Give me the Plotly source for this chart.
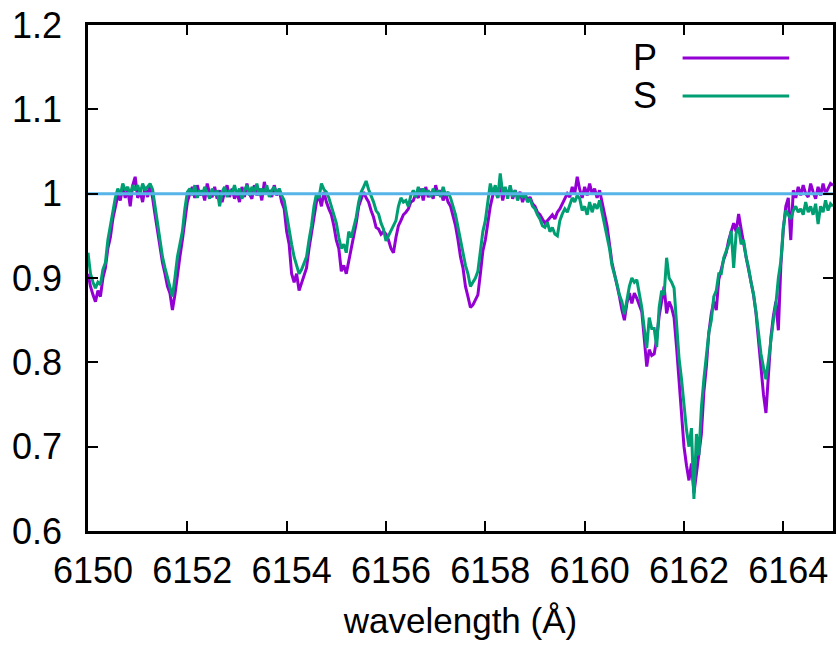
import numpy as np
import plotly.graph_objects as go

wl_start = 6150.0
wl_step = 0.05

P_flux = [
    # 6150.00 - 6150.95
    0.905, 0.890, 0.880, 0.872, 0.885, 0.878, 0.900, 0.912, 0.935, 0.948,
    0.970, 0.985, 0.998, 0.992, 1.008, 0.995, 1.005, 0.985, 1.010, 1.020,
    # 6151
    0.995, 1.003, 0.990, 1.008, 0.996, 1.010, 0.995, 0.975, 0.955, 0.935,
    0.918, 0.905, 0.890, 0.882, 0.862, 0.880, 0.905, 0.925, 0.945, 0.965,
    # 6152
    0.990, 1.000, 1.008, 0.995, 1.010, 0.998, 1.004, 0.992, 1.012, 1.000,
    0.996, 1.008, 0.994, 1.004, 0.990, 1.002, 1.010, 0.996, 1.006, 0.994,
    # 6153
    1.002, 0.990, 1.008, 0.996, 1.012, 1.000, 0.994, 1.010, 0.998, 1.006,
    0.992, 1.014, 1.000, 1.004, 0.996, 1.010, 0.998, 1.004, 0.990, 0.982,
    # 6154
    0.955, 0.940, 0.905, 0.895, 0.905, 0.885, 0.895, 0.905, 0.912, 0.935,
    0.955, 0.975, 0.990, 0.998, 0.985, 1.002, 0.990, 0.982, 0.975, 0.962,
    # 6155
    0.945, 0.935, 0.908, 0.915, 0.905, 0.920, 0.935, 0.950, 0.965, 0.985,
    0.995, 1.002, 0.995, 0.990, 0.980, 0.972, 0.960, 0.958, 0.952, 0.955,
    # 6156
    0.952, 0.945, 0.935, 0.930, 0.948, 0.962, 0.968, 0.975, 0.978, 0.982,
    0.990, 0.992, 1.000, 0.995, 1.006, 0.992, 1.008, 0.996, 1.002, 0.994,
    # 6157
    1.010, 0.998, 1.004, 0.992, 1.000, 0.990, 0.985, 0.975, 0.962, 0.945,
    0.925, 0.912, 0.890, 0.878, 0.865, 0.868, 0.875, 0.880, 0.905, 0.932,
    # 6158
    0.945, 0.968, 0.985, 0.998, 1.004, 0.995, 1.010, 0.992, 1.006, 0.998,
    1.008, 0.994, 1.004, 0.996, 1.002, 0.990, 1.000, 0.992, 0.996, 0.988,
    # 6159
    0.985, 0.978, 0.975, 0.970, 0.965, 0.968, 0.972, 0.975, 0.970, 0.978,
    0.982, 0.988, 0.995, 1.000, 0.996, 1.008, 1.000, 1.020, 1.005, 0.995,
    # 6160
    1.008, 0.998, 1.012, 1.000, 1.006, 0.995, 1.004, 0.990, 0.975, 0.962,
    0.940, 0.918, 0.905, 0.893, 0.878, 0.862, 0.850, 0.870, 0.882, 0.870,
    # 6161
    0.882, 0.876, 0.868, 0.860, 0.828, 0.795, 0.815, 0.808, 0.810, 0.828,
    0.855, 0.875, 0.890, 0.858, 0.872, 0.865, 0.853, 0.818, 0.780, 0.742,
    # 6162
    0.700, 0.678, 0.660, 0.680, 0.645, 0.668, 0.690, 0.715, 0.765, 0.795,
    0.835, 0.858, 0.872, 0.862, 0.898, 0.910, 0.922, 0.930, 0.945, 0.955,
    # 6163
    0.965, 0.955, 0.976, 0.958, 0.940, 0.925, 0.910, 0.895, 0.880, 0.858,
    0.825, 0.790, 0.762, 0.740, 0.790, 0.830, 0.855, 0.872, 0.838, 0.915,
    # 6164
    0.958, 0.985, 0.995, 0.945, 1.004, 0.995, 1.008, 0.998, 1.010, 1.000,
    0.996, 1.012, 1.002, 0.994, 1.008, 0.998, 1.012, 1.000, 1.006, 1.012,
    # 6165.00
    1.010,
]

S_flux = [
    # 6150
    0.930, 0.905, 0.895, 0.888, 0.895, 0.892, 0.910, 0.918, 0.945, 0.962,
    0.980, 0.995, 1.006, 0.998, 1.012, 1.004, 1.008, 0.998, 1.010, 1.004,
    # 6151
    1.010, 1.000, 1.012, 1.004, 1.008, 1.012, 1.005, 0.985, 0.960, 0.945,
    0.925, 0.912, 0.900, 0.890, 0.878, 0.900, 0.925, 0.940, 0.955, 0.982,
    # 6152
    1.002, 1.006, 0.998, 1.010, 0.995, 1.004, 0.998, 1.008, 1.000, 0.994,
    1.006, 0.998, 1.004, 0.985, 1.002, 1.008, 0.996, 1.004, 1.000, 1.010,
    # 6153
    0.998, 1.006, 0.994, 1.004, 1.010, 0.998, 1.008, 1.002, 1.012, 0.998,
    1.006, 1.000, 1.010, 0.996, 1.004, 1.008, 1.000, 1.006, 0.998, 0.992,
    # 6154
    0.975, 0.955, 0.940, 0.925, 0.915, 0.905, 0.910, 0.918, 0.925, 0.945,
    0.962, 0.985, 1.000, 0.995, 1.012, 1.005, 1.002, 0.995, 0.984, 0.975,
    # 6155
    0.965, 0.948, 0.935, 0.940, 0.930, 0.955, 0.948, 0.960, 0.972, 0.990,
    1.002, 1.008, 1.015, 1.005, 0.998, 0.990, 0.980, 0.976, 0.965, 0.958,
    # 6156
    0.944, 0.950, 0.958, 0.962, 0.968, 0.985, 0.995, 0.990, 0.992, 0.985,
    0.998, 1.004, 0.996, 1.008, 0.998, 1.006, 1.000, 1.004, 0.996, 1.006,
    # 6157
    0.998, 1.004, 0.996, 1.008, 0.998, 1.002, 0.995, 0.985, 0.975, 0.960,
    0.944, 0.930, 0.915, 0.905, 0.890, 0.895, 0.900, 0.908, 0.935, 0.955,
    # 6158
    0.968, 0.990, 1.012, 1.000, 1.010, 0.995, 1.024, 1.000, 1.008, 0.994,
    1.010, 0.996, 1.004, 0.992, 1.000, 0.996, 0.998, 0.990, 0.994, 0.985,
    # 6159
    0.982, 0.975, 0.970, 0.962, 0.960, 0.966, 0.955, 0.960, 0.952, 0.950,
    0.968, 0.976, 0.982, 0.978, 0.988, 0.995, 0.990, 0.998, 0.994, 0.980,
    # 6160
    0.985, 0.975, 0.990, 0.978, 0.988, 0.982, 0.992, 0.978, 0.965, 0.950,
    0.935, 0.915, 0.905, 0.893, 0.880, 0.872, 0.857, 0.875, 0.890, 0.900,
    # 6161
    0.895, 0.898, 0.880, 0.865, 0.840, 0.817, 0.853, 0.840, 0.840, 0.818,
    0.865, 0.885, 0.880, 0.924, 0.900, 0.895, 0.888, 0.840, 0.805, 0.780,
    # 6162
    0.745, 0.720, 0.700, 0.722, 0.638, 0.715, 0.690, 0.746, 0.780, 0.810,
    0.835, 0.850, 0.878, 0.885, 0.905, 0.905, 0.924, 0.932, 0.940, 0.956,
    # 6163
    0.912, 0.953, 0.960, 0.940, 0.945, 0.925, 0.912, 0.895, 0.881, 0.860,
    0.832, 0.810, 0.794, 0.780, 0.802, 0.829, 0.850, 0.869, 0.900, 0.920,
    # 6164
    0.960, 0.980, 0.975, 0.970, 0.980, 0.985, 0.978, 0.982, 0.975, 0.990,
    0.978, 0.985, 0.975, 0.988, 0.964, 0.985, 0.978, 0.992, 0.980, 0.988,
    # 6165.00
    0.985,
]

continuum_x = [6150.0, 6165.0]
continuum_y = [1.0, 1.0]

series_names = ["P", "S"]
series_colors = ["#9400D3", "#009E73"]
x_ticks = [6150, 6152, 6154, 6156, 6158, 6160, 6162, 6164]
y_ticks = [0.6, 0.7, 0.8, 0.9, 1.0, 1.1, 1.2]

wl = wl_start + wl_step * np.arange(len(P_flux))

W, H = 838, 645
ML, MR, MT, MB = 88, 2, 25, 114
FONT = "Liberation Sans, Arial, Helvetica, sans-serif"
FS = 36

fig = go.Figure()
for name, flux, col in zip(series_names, [P_flux, S_flux], series_colors):
    fig.add_trace(go.Scatter(x=wl, y=flux, mode="lines", name=name,
                             line=dict(color=col, width=3), showlegend=False))
fig.add_trace(go.Scatter(x=continuum_x, y=continuum_y, mode="lines",
                         line=dict(color="#56B4E9", width=3), showlegend=False))

pw = W - ML - MR
ph = H - MT - MB
def px_x(p):
    return (p - ML) / pw
def px_y(p):
    return (H - MB - p) / ph

# gnuplot-style legend: text to the left of the sample line
for i, (name, col) in enumerate(zip(series_names, series_colors)):
    yy = px_y(58 + 38 * i)
    fig.add_annotation(x=px_x(661), y=yy, xref="paper", yref="paper",
                       text=name, showarrow=False, xanchor="right", yanchor="middle",
                       font=dict(family=FONT, size=FS, color="black"))
    fig.add_shape(type="line", xref="paper", yref="paper",
                  x0=px_x(685), x1=px_x(792), y0=yy, y1=yy,
                  line=dict(color=col, width=3))

axis_common = dict(showline=True, linecolor="black", linewidth=2.5, mirror="ticks",
                   ticks="inside", ticklen=10, tickwidth=2, tickcolor="black",
                   showgrid=False, zeroline=False,
                   tickfont=dict(family=FONT, size=FS, color="black"))

fig.update_xaxes(range=[6150, 6165], tickvals=x_ticks,
                 ticktext=[str(v) for v in x_ticks], ticklabelstandoff=6,
                 ticklabelshift=5,
                 title=dict(text="wavelength (Å)", standoff=19,
                            font=dict(family=FONT, size=35, color="black")),
                 **axis_common)
fig.update_yaxes(range=[0.6, 1.2], tickvals=y_ticks,
                 ticktext=["0.6", "0.7", "0.8", "0.9", "1", "1.1", "1.2"],
                 ticklabelstandoff=16, **axis_common)

fig.update_layout(width=W, height=H, autosize=False,
                  margin=dict(l=ML, r=MR, t=MT, b=MB, pad=0),
                  plot_bgcolor="white", paper_bgcolor="white",
                  font=dict(family=FONT, size=FS, color="black"))

fig.write_html("out.html")
